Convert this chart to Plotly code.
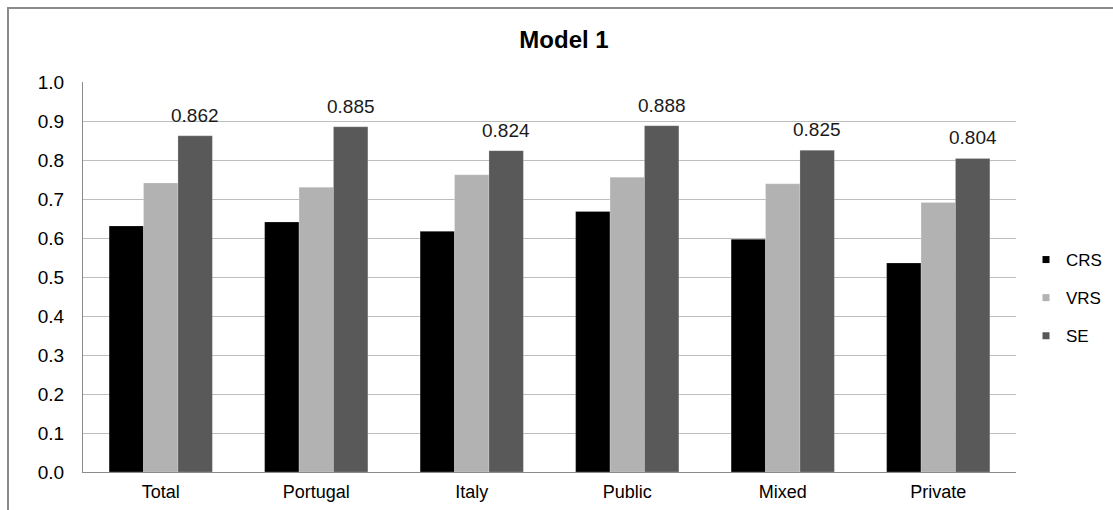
import plotly.graph_objects as go

categories = ["Total", "Portugal", "Italy", "Public", "Mixed", "Private"]
crs = [0.631, 0.641, 0.617, 0.668, 0.597, 0.536]
vrs = [0.741, 0.730, 0.762, 0.756, 0.739, 0.691]
se = [0.862, 0.885, 0.824, 0.888, 0.825, 0.804]
series_names = ["CRS", "VRS", "SE"]
colors = ["#000000", "#b2b2b2", "#595959"]
y_ticks = [0.0, 0.1, 0.2, 0.3, 0.4, 0.5, 0.6, 0.7, 0.8, 0.9, 1.0]

W, H = 1113, 510
L, R, T, B = 83, 97, 82, 38
FONT = "Liberation Sans, Arial, sans-serif"
BARGAP = 0.336
plot_w = W - L - R
plot_h = H - T - B
bar_w = plot_w / len(categories) * (1 - BARGAP) / 3

fig = go.Figure()
for name, vals, col in zip(series_names, [crs, vrs, se], colors):
    fig.add_trace(go.Bar(
        x=categories, y=vals, name=name,
        marker=dict(color=col, line=dict(color="rgba(255,255,255,0.35)", width=0.6)),
        showlegend=False,
    ))
    fig.add_trace(go.Scatter(
        x=[None], y=[None], mode="markers", name=name, legendgroup=name,
        marker=dict(symbol="square", size=7, color=col),
        showlegend=True,
    ))

annotations = []
for c, v in zip(categories, se):
    annotations.append(dict(
        x=c, y=v, xref="x", yref="y", text=f"{v:.3f}", showarrow=False,
        xshift=bar_w, yanchor="bottom", yshift=8,
        font=dict(family=FONT, size=19, color="#1a1a1a"),
    ))

fig.update_layout(
    width=W, height=H,
    margin=dict(l=L, r=R, t=T, b=B, autoexpand=False),
    paper_bgcolor="white", plot_bgcolor="white",
    barmode="group", bargap=BARGAP, bargroupgap=0,
    title=dict(text="<b>Model 1</b>", x=564 / W, xref="container", xanchor="center",
               y=1 - 40 / H, yref="container", yanchor="middle",
               font=dict(family=FONT, size=24, color="#000000")),
    font=dict(family=FONT, size=18, color="#000000"),
    legend=dict(x=1026 / W, xref="container", y=(H - B - 298) / plot_h, yref="paper",
                yanchor="middle", xanchor="left", tracegroupgap=13, traceorder="grouped",
                font=dict(family=FONT, size=17, color="#000000"),
                bgcolor="rgba(0,0,0,0)", itemwidth=30),
    annotations=annotations,
    shapes=[dict(type="rect", xref="paper", yref="paper",
                 x0=(8 - L) / plot_w, x1=(W + 20 - L) / plot_w,
                 y0=-(H + 20 - (H - B)) / plot_h, y1=(H - B - 8) / plot_h,
                 line=dict(color="#8a8a8a", width=2), layer="below")],
)
fig.update_xaxes(showline=True, linecolor="#8a8a8a", linewidth=1, ticks="",
                 automargin=False,
                 tickfont=dict(family=FONT, size=18), ticklabelstandoff=3)
fig.update_yaxes(range=[0, 1.0], tickvals=y_ticks, ticktext=[f"{t:.1f}" for t in y_ticks],
                 showline=True, linecolor="#8a8a8a", linewidth=1, automargin=False,
                 showgrid=True, gridcolor="#bdbdbd", gridwidth=1, zeroline=False,
                 tickfont=dict(family=FONT, size=19), ticklabelstandoff=14)

fig.write_html(
    "out.html",
    config={"displayModeBar": False},
    post_script="document.body.style.margin='0';document.body.style.overflow='hidden';",
)
